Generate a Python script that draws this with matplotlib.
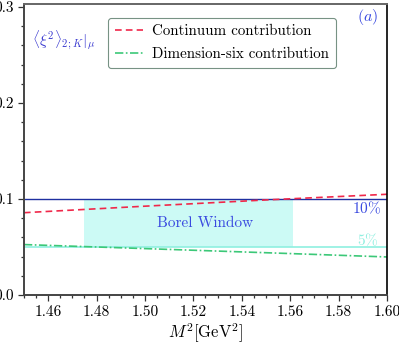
import matplotlib
matplotlib.use("Agg")
import matplotlib.pyplot as plt
import numpy as np
from matplotlib.ticker import MultipleLocator

plt.rcParams['font.family'] = 'serif'
plt.rcParams['font.serif'] = ['cmr10']
plt.rcParams['mathtext.fontset'] = 'cm'
plt.rcParams['axes.formatter.use_mathtext'] = True

# data
m2 = [1.45, 1.50, 1.55, 1.60]
continuum = [0.0857, 0.0925, 0.0990, 0.1049]
dim_six = [0.0525, 0.0483, 0.0440, 0.0396]
window = [1.475, 1.5613]
limit_10 = 0.1
limit_5 = 0.0503

fig = plt.figure(figsize=(3.99, 3.47), dpi=100)
ax = fig.add_axes([0.060, 0.150, 0.910, 0.838])

ax.fill_between(window, limit_5, limit_10, color='#ccfaf5', lw=0)
ax.axhline(limit_10, color='#1f2fa0', lw=1.0)
ax.axhline(limit_5, color='#8ff0e0', lw=1.2)
ax.plot(m2, continuum, color='#f0284a', ls=(0, (4, 2.5)), lw=1.2, label='Continuum contribution')
ax.plot(m2, dim_six, color='#3cc878', ls=(0, (5, 1.5, 1, 1.5)), lw=1.2, label='Dimension-six contribution')

ax.text(1.525, 0.0745, 'Borel Window', color='#3a4ae0', fontsize=11, ha='center', va='center')
ax.text(1.5975, 0.0905, r'10$\%$', color='#3a4ae0', fontsize=11, ha='right', va='center')
ax.text(1.5965, 0.0575, r'5$\%$', color='#90efe0', fontsize=11, ha='right', va='center')
ax.text(1.5965, 0.29, r'$(a)$', color='#3a4ae0', fontsize=11.5, ha='right', va='center')
ax.text(1.4535, 0.265, r'$\langle\xi^2\rangle_{2;K}|_\mu$', color='#3a3ad0', fontsize=11, ha='left', va='center')

ax.set_xlim(1.45, 1.60)
ax.set_ylim(0, 0.303)
ax.xaxis.set_major_locator(MultipleLocator(0.02))
ax.xaxis.set_minor_locator(MultipleLocator(0.005))
ax.yaxis.set_major_locator(MultipleLocator(0.1))
ax.yaxis.set_minor_locator(MultipleLocator(0.02))
ax.xaxis.set_major_formatter(matplotlib.ticker.FormatStrFormatter('%.2f'))
ax.yaxis.set_major_formatter(matplotlib.ticker.FormatStrFormatter('%.1f'))
ax.tick_params(which='both', direction='out', labelsize=11, width=0.9, color='#333333')
ax.tick_params(which='major', length=4)
ax.tick_params(which='minor', length=2.5)
ax.set_xlabel(r'$M^2[\mathrm{GeV}^2]$', fontsize=12, labelpad=2)

for side in ['left', 'bottom']:
    ax.spines[side].set_color('#444444')
    ax.spines[side].set_linewidth(1.4)
ax.spines['top'].set_color('#666666')
ax.spines['top'].set_linewidth(1.4)
ax.spines['right'].set_color('black')
ax.spines['right'].set_linewidth(1.2)

leg = ax.legend(loc='upper left', bbox_to_anchor=(0.231, 0.953), borderaxespad=0, fontsize=10.8,
                frameon=True, fancybox=True, edgecolor='#557766', handlelength=1.9, handletextpad=0.6,
                borderpad=0.45, labelspacing=0.6)
leg.get_frame().set_linewidth(0.8)

fig.savefig('out.png', dpi=100)
